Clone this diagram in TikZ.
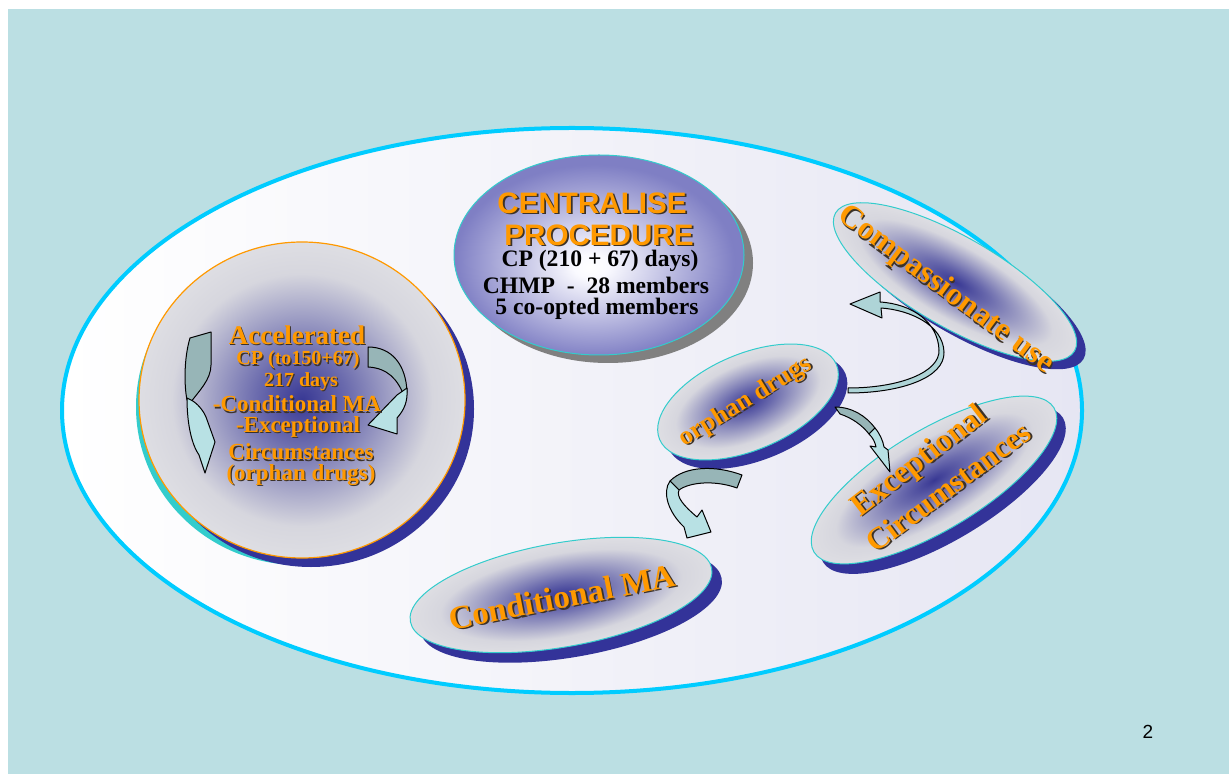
\documentclass[tikz,border=0pt]{standalone}
\usepackage{fontspec}
\setmainfont{Liberation Serif}
\newfontfamily\arialfont{Liberation Sans}
\usetikzlibrary{shapes.geometric}

\definecolor{slidebg}{RGB}{187,223,227}
\definecolor{rimcyan}{RGB}{0,204,255}
\definecolor{lavender}{RGB}{230,230,243}
\definecolor{edgeteal}{RGB}{51,204,204}
\definecolor{shadowblue}{RGB}{51,51,153}
\definecolor{shadowgrey}{RGB}{128,128,128}
\definecolor{orangetxt}{RGB}{255,153,0}
\definecolor{txtshadow}{RGB}{60,50,40}
\definecolor{arrowdark}{RGB}{151,181,183}
\definecolor{arrowlight}{RGB}{184,225,228}

% blue glow in a grey oval, and a white-to-periwinkle glow
% (the central 50bp square of a shading is fitted to the path)
\pgfdeclareradialshading{glow}{\pgfpoint{0bp}{0bp}}{rgb(0bp)=(0.22,0.22,0.58); rgb(7bp)=(0.42,0.42,0.68); rgb(20bp)=(0.84,0.84,0.87); rgb(25bp)=(0.87,0.87,0.89); rgb(50bp)=(0.87,0.87,0.89)}
\pgfdeclareradialshading{paleglow}{\pgfpoint{-1.5bp}{-3bp}}{rgb(0bp)=(1,1,1); rgb(3bp)=(0.98,0.98,1); rgb(24bp)=(0.5,0.5,0.77); rgb(50bp)=(0.48,0.48,0.76)}

% text with a small drop shadow
\newcommand{\shd}[2][0.6pt]{\makebox[0pt][l]{\hspace*{#1}\raisebox{-#1}[0pt][0pt]{\textcolor{txtshadow}{#2}}}#2}

% rotated oval: centre x, centre y, half axes a b, angle, shadow offset dx dy
\newcommand{\glowoval}[7]{%
  \fill[shadowblue, rotate around={#5:(#1+#6,#2+#7)}] (#1+#6,#2+#7) ellipse [x radius=#3, y radius=#4];
  \begin{scope}[transform canvas={rotate around={#5:(#1,#2)}}]
    \path[shading=glow, draw=edgeteal, line width=0.5pt] (#1,#2) ellipse [x radius=#3, y radius=#4];
  \end{scope}}

\begin{document}
\begin{tikzpicture}[x=0.5pt,y=-0.5pt,
  otext/.style={text=orangetxt, inner sep=0pt, align=center},
  btext/.style={text=black, inner sep=0pt, font=\bfseries\fontsize{11.8}{13}\selectfont},
  backband/.style={draw=black, line width=0.5pt, line join=round, fill=arrowdark},
  frontband/.style={draw=black, line width=0.5pt, line join=round, fill=arrowlight}]
\useasboundingbox (0,0) rectangle (1229,774);
\fill[white] (0,0) rectangle (1229,774);
\fill[slidebg] (8,9) rectangle (1229,774);

% outer oval
\path[left color=white, right color=lavender, draw=rimcyan, line width=2pt]
  (572,410.5) ellipse [x radius=510, y radius=282.5];

% accelerated-procedure disc
\fill[edgeteal] (299,407) ellipse [x radius=163, y radius=158];
\fill[shadowblue] (311,409) ellipse [x radius=163, y radius=158];
\path[shading=glow, draw=orangetxt, line width=0.6pt] (302,400) ellipse [x radius=163, y radius=158];

% centralised procedure oval
\fill[shadowgrey] (608,263) ellipse [x radius=145, y radius=100];
\path[shading=paleglow, draw=edgeteal, line width=0.5pt] (599,255) ellipse [x radius=145, y radius=100];

% rotated ovals
\glowoval{955}{282}{138}{45}{-30}{9}{8}
\glowoval{748}{402}{96}{48}{23}{9}{9}
\glowoval{934}{480}{140}{50}{31}{9}{10}
\glowoval{561}{595}{153}{52}{10}{10}{10}

% curved arrows inside the disc
\path[backband] (190,338) -- (211,332) -- (211,365)
  .. controls (211,380) and (198,392) .. (191,402) -- (187,400)
  .. controls (184,385) and (184,358) .. (190,338) -- cycle;
\path[frontband] (187,398) .. controls (187,425) and (192,445) .. (199,455)
  -- (205,473) -- (215,442) -- (206,417)
  .. controls (203,410) and (197,403) .. (191,400) -- cycle;
\path[backband] (368,347) .. controls (392,347) and (406,365) .. (407,392)
  -- (404,396) .. controls (398,380) and (388,368) .. (368,367) -- cycle;
\path[frontband] (407,388) -- (397,395) -- (368,425) -- (397,434) -- (397,418)
  .. controls (404,410) and (408,402) .. (407,388) -- cycle;

% orphan drugs -> compassionate use
\path[frontband, fill=arrowlight!70!arrowdark] (848,393) .. controls (900,393) and (945,378) .. (944,352)
  .. controls (943,325) and (910,310) .. (881,308) -- (882,318) -- (850,304) -- (880,292) -- (880,302)
  .. controls (912,304) and (938,322) .. (939,350)
  .. controls (940,372) and (900,388) .. (848,388) -- cycle;
% orphan drugs -> exceptional circumstances
\path[backband] (835,407) .. controls (852,407) and (866,416) .. (875,428)
  -- (869,434) .. controls (862,425) and (852,418) .. (840,414) -- cycle;
\path[frontband] (869,434) -- (875,428) .. controls (880,434) and (883,441) .. (884,447)
  -- (888,450) -- (890,472) -- (870,446) -- (876,447)
  .. controls (875,442) and (873,438) .. (869,434) -- cycle;
% orphan drugs -> conditional MA
\path[backband] (742,475) .. controls (715,465) and (685,466) .. (670,481)
  -- (679,490) .. controls (690,482) and (715,480) .. (737,488) -- cycle;
\path[frontband] (670,481) .. controls (662,492) and (668,512) .. (684,527)
  -- (687,538) -- (711,532) -- (702,510) -- (697,517)
  .. controls (684,506) and (676,497) .. (679,490) -- cycle;

% centralised procedure text
\node[otext, font=\arialfont\bfseries\fontsize{14.8}{16}\selectfont] (cen1) at (592,203) {\shd[0.9pt]{CENTRALISE}};
\node[otext, font=\arialfont\bfseries\fontsize{14.8}{16}\selectfont] (cen2) at (599,235) {\shd[0.9pt]{PROCEDURE}};
\node[btext] (cp) at (600,261) {CP (210 + 67) days)};
\node[btext] (chmp) at (596,285) {CHMP~~-~~28 members};
\node[btext] (coopt) at (597,309) {5 co-opted members};

% accelerated procedure text
\node[otext, font=\bfseries\fontsize{13.5}{15}\selectfont] (acc1) at (297,335) {\shd{Accelerated}};
\node[otext, font=\bfseries\fontsize{10}{12}\selectfont] (acc2) at (298,360) {\shd{CP (to150+67)}};
\node[otext, font=\bfseries\fontsize{10}{12}\selectfont] (acc3) at (301,382) {\shd{217 days}};
\node[otext, font=\bfseries\fontsize{11.5}{13}\selectfont] (acc4) at (297,404) {\shd{-Conditional MA}};
\node[otext, font=\bfseries\fontsize{11.5}{13}\selectfont] (acc5) at (298,427) {\shd{-Exceptional}};
\node[otext, font=\bfseries\fontsize{11.5}{13}\selectfont] (acc6) at (301,452) {\shd{Circumstances}};
\node[otext, font=\bfseries\fontsize{11.5}{13}\selectfont] (acc7) at (301,475) {\shd{(orphan drugs)}};

% oval labels
\node[otext, font=\bfseries\fontsize{16}{18}\selectfont, rotate=-36.5] (comp) at (946,290) {\shd[0.8pt]{Compassionate use}};
\node[otext, font=\bfseries\fontsize{13}{15}\selectfont, rotate=31.5] (orph) at (746,402) {\shd[0.7pt]{orphan drugs}};
\node[otext, font=\bfseries\fontsize{16}{18}\selectfont, rotate=37.5] (exc1) at (920,462) {\shd[0.8pt]{Exceptional}};
\node[otext, font=\bfseries\fontsize{15.5}{18}\selectfont, rotate=36.5] (exc2) at (948,487) {\shd[0.8pt]{Circumstances}};
\node[otext, font=\bfseries\fontsize{16.5}{18}\selectfont, rotate=11] (cond) at (562,597) {\shd[0.8pt]{Conditional MA}};

% slide number
\node[inner sep=0pt, font=\arialfont\fontsize{9.5}{11}\selectfont] (slidenum) at (1148,732) {2};
\end{tikzpicture}
\end{document}
